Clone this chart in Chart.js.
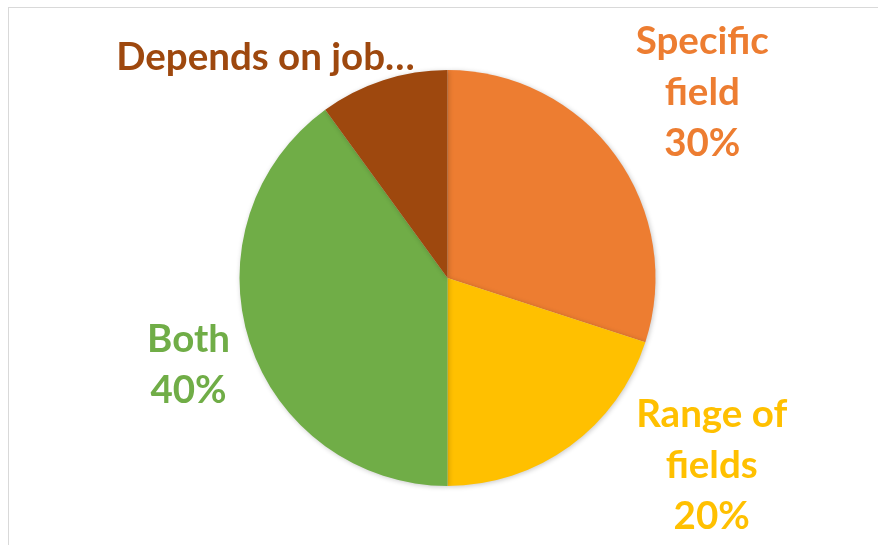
<!DOCTYPE html>
<html>
<head>
<meta charset="utf-8">
<script src="https://cdn.jsdelivr.net/npm/chart.js@4.4.0/dist/chart.umd.min.js"></script>
<style>
  html, body { margin: 0; padding: 0; background: #fff; }
  #wrap { position: relative; width: 878px; height: 545px; overflow: hidden; }
  #frame { position: absolute; left: 8px; top: 7px; width: 900px; height: 600px; border: 1px solid #d9d9d9; box-sizing: border-box; }
  canvas { position: absolute; left: 0; top: 0; }
</style>
</head>
<body>
<div id="wrap">
  <div id="frame"></div>
  <canvas id="pie" width="878" height="545"></canvas>
</div>
<script>
// Pie data
const categories = ['Specific field', 'Range of fields', 'Both', 'Depends on job…'];
const values = [30, 20, 40, 10];
const colors = ['#ED7D31', '#FFC000', '#70AD47', '#9E480E'];

// label text lines per slice (category split + percentage)
const labelLines = [
  ['Specific', 'field', '30%'],
  ['Range of', 'fields', '20%'],
  ['Both', '40%'],
  ['Depends on job…']
];
// label centre offsets, in units of the pie radius, from the pie centre
const labelOffsets = [[1.225, -0.89], [1.27, 0.90], [-1.245, 0.42], [-0.875, -1.06]];

const shadowPlugin = {
  id: 'softShadow',
  beforeDatasetsDraw(chart) {
    const ctx = chart.ctx;
    ctx.save();
    ctx.shadowColor = 'rgba(0,0,0,0.22)';
    ctx.shadowBlur = 5;
    ctx.shadowOffsetX = 1;
    ctx.shadowOffsetY = 1;
  },
  afterDatasetsDraw(chart) {
    chart.ctx.restore();
  }
};

const labelPlugin = {
  id: 'outsideLabels',
  afterDraw(chart) {
    const ctx = chart.ctx;
    const arcs = chart.getDatasetMeta(0).data;
    const lineH = 51;
    ctx.save();
    ctx.font = 'bold 38.5px Lato, "Open Sans", sans-serif';
    ctx.textAlign = 'center';
    ctx.textBaseline = 'middle';
    arcs.forEach((arc, i) => {
      const r = arc.outerRadius;
      const cx = arc.x + labelOffsets[i][0] * r;
      const cy = arc.y + labelOffsets[i][1] * r;
      const lines = labelLines[i];
      ctx.fillStyle = colors[i];
      lines.forEach((t, k) => {
        ctx.fillText(t, cx, cy + (k - (lines.length - 1) / 2) * lineH);
      });
    });
    ctx.restore();
  }
};

new Chart(document.getElementById('pie'), {
  type: 'pie',
  data: {
    labels: categories,
    datasets: [{
      data: values,
      backgroundColor: colors,
      borderWidth: 0
    }]
  },
  options: {
    responsive: false,
    animation: false,
    layout: { padding: { top: 70, bottom: 59, left: 239, right: 222 } },
    plugins: {
      legend: { display: false },
      tooltip: { enabled: false }
    }
  },
  plugins: [shadowPlugin, labelPlugin]
});
</script>
</body>
</html>
